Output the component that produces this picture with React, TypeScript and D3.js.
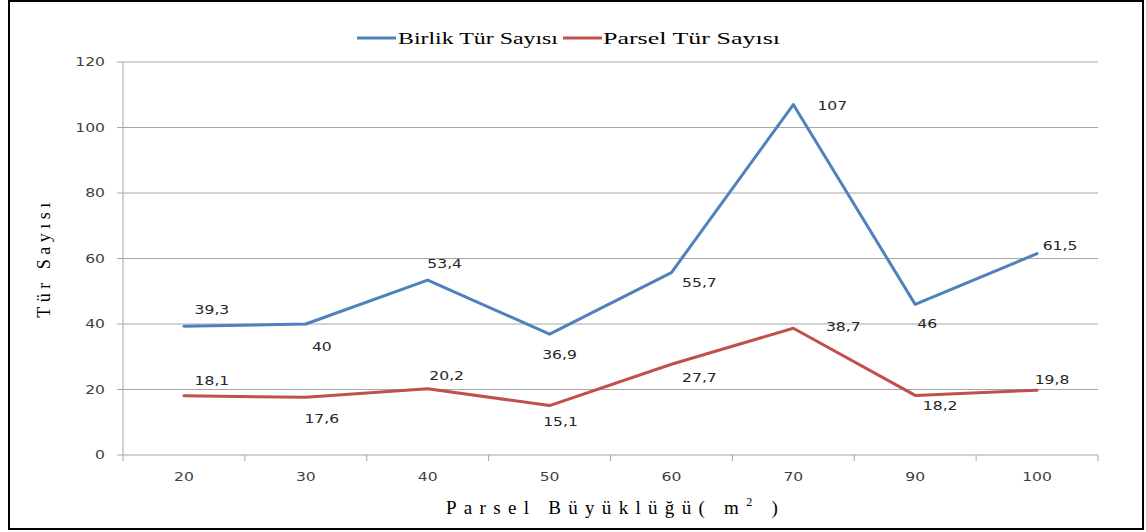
import React from "react";
import * as d3 from "d3";

// Plot sizes (m²) and species counts
const categories = ["20", "30", "40", "50", "60", "70", "90", "100"];
const birlikValues = [39.3, 40, 53.4, 36.9, 55.7, 107, 46, 61.5];
const parselValues = [18.1, 17.6, 20.2, 15.1, 27.7, 38.7, 18.2, 19.8];
const yTicks = [0, 20, 40, 60, 80, 100, 120];

// Data-label nudges (dx, dy) relative to each point
const birlikLabelOffsets: [number, number][] = [
  [28, -16], [16, 23], [17, -16], [10, 21], [28, 10], [39, 1], [12, 19], [23, -8],
];
const parselLabelOffsets: [number, number][] = [
  [28, -15], [16, 21], [19, -13], [11, 16], [28, 14], [50, -1], [25, 10], [15, -10],
];

const W = 1146;
const H = 532;
const plot = { left: 123, right: 1098, top: 62, bottom: 455 };

const BLUE = "#4F81BD";
const RED = "#C0504D";
const GRID = "#A6A6A6";
const SERIF = "'Liberation Serif', 'Times New Roman', serif";
const SANS = "'DejaVu Sans', Verdana, sans-serif";
// the sans labels are drawn slightly widened
const SX = 1.3;

const fmt = (v: number) => String(v).replace(".", ",");

function WideText(props: {
  x: number;
  y: number;
  anchor: "start" | "middle" | "end";
  fill: string;
  children: React.ReactNode;
}) {
  return (
    <text
      transform={`translate(${props.x},${props.y}) scale(${SX},1)`}
      dy="0.35em"
      textAnchor={props.anchor}
      fontFamily={SANS}
      fontSize={12}
      fill={props.fill}
    >
      {props.children}
    </text>
  );
}

export default function App() {
  const x = d3
    .scaleBand<string>()
    .domain(categories)
    .range([plot.left, plot.right])
    .paddingInner(0)
    .paddingOuter(0);
  const y = d3.scaleLinear().domain([0, 120]).range([plot.bottom, plot.top]);
  const cx = (c: string) => (x(c) ?? 0) + x.bandwidth() / 2;

  const line = d3
    .line<number>()
    .x((_, i) => cx(categories[i]))
    .y((v) => y(v));

  const series = [
    { name: "Birlik Tür Sayısı", values: birlikValues, color: BLUE, offsets: birlikLabelOffsets },
    { name: "Parsel Tür Sayısı", values: parselValues, color: RED, offsets: parselLabelOffsets },
  ];

  const xEdges = categories.map((c) => x(c) ?? 0).concat([plot.right]);

  return (
    <svg
      width={W}
      height={H}
      style={{ position: "absolute", left: 0, top: 0, background: "#fff" }}
    >
      <rect x={0} y={0} width={W} height={H} fill="#fff" />
      <rect x={9} y={1} width={1134} height={528} fill="none" stroke="#000" strokeWidth={2} />

      {/* horizontal gridlines and y ticks */}
      {yTicks.map((t) => (
        <g key={t}>
          {t > 0 && (
            <line x1={plot.left} x2={plot.right} y1={y(t)} y2={y(t)} stroke={GRID} strokeWidth={1} />
          )}
          <line x1={plot.left - 6} x2={plot.left} y1={y(t)} y2={y(t)} stroke={GRID} strokeWidth={1} />
          <WideText x={105} y={y(t)} anchor="end" fill="#404040">
            {t}
          </WideText>
        </g>
      ))}

      {/* axes */}
      <line x1={plot.left} x2={plot.left} y1={plot.top} y2={plot.bottom} stroke={GRID} strokeWidth={1} />
      <line x1={plot.left} x2={plot.right} y1={plot.bottom} y2={plot.bottom} stroke={GRID} strokeWidth={1} />
      {xEdges.map((e, i) => (
        <line key={i} x1={e} x2={e} y1={plot.bottom} y2={plot.bottom + 6} stroke={GRID} strokeWidth={1} />
      ))}
      {categories.map((c) => (
        <WideText key={c} x={cx(c)} y={477} anchor="middle" fill="#404040">
          {c}
        </WideText>
      ))}

      {/* series lines */}
      {series.map((s) => (
        <path
          key={s.name}
          d={line(s.values) ?? ""}
          fill="none"
          stroke={s.color}
          strokeWidth={3}
          strokeLinejoin="round"
          strokeLinecap="round"
        />
      ))}

      {/* data labels */}
      {series.map((s) =>
        s.values.map((v, i) => (
          <WideText
            key={s.name + i}
            x={cx(categories[i]) + s.offsets[i][0]}
            y={y(v) + s.offsets[i][1]}
            anchor="middle"
            fill="#262626"
          >
            {fmt(v)}
          </WideText>
        ))
      )}

      {/* legend */}
      <g fontFamily={SERIF} fontSize={17} fill="#000">
        <line x1={357} x2={396} y1={38} y2={38} stroke={BLUE} strokeWidth={3} />
        <text x={398} y={38} dy="0.35em" textLength={160} lengthAdjust="spacingAndGlyphs">
          Birlik Tür Sayısı
        </text>
        <line x1={563} x2={602} y1={38} y2={38} stroke={RED} strokeWidth={3} />
        <text x={603} y={38} dy="0.35em" textLength={177} lengthAdjust="spacingAndGlyphs">
          Parsel Tür Sayısı
        </text>
      </g>

      {/* axis titles */}
      <text
        transform="translate(50,258) rotate(-90)"
        textAnchor="middle"
        fontFamily={SERIF}
        fontSize={18}
        letterSpacing={4.5}
        fill="#000"
      >
        Tür Sayısı
      </text>
      <text
        x={446}
        y={514}
        fontFamily={SERIF}
        fontSize={19}
        letterSpacing={7.3}
        fill="#000"
      >
        Parsel Büyüklüğü( m<tspan dy={-8} fontSize={12}>2</tspan><tspan dy={8}> )</tspan>
      </text>
    </svg>
  );
}
